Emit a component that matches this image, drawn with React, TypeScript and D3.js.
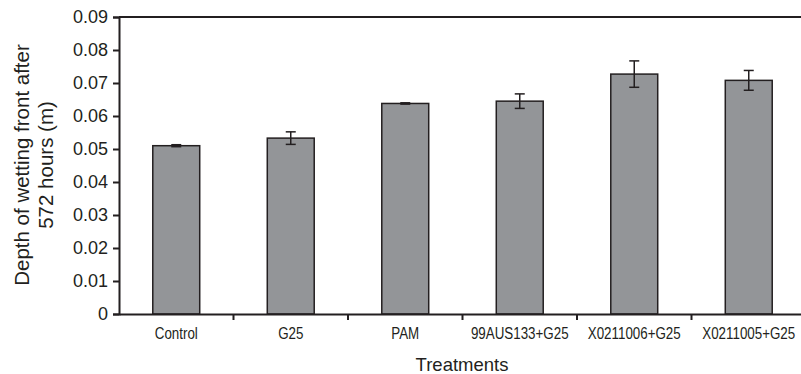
import React, { useEffect, useRef } from 'react';
import * as d3 from 'd3';

const treatments = ['Control', 'G25', 'PAM', '99AUS133+G25', 'X0211006+G25', 'X0211005+G25'];
const depths = [0.051, 0.0533, 0.0638, 0.0645, 0.0727, 0.0708];
const errors = [0.0003, 0.0019, 0.0002, 0.0022, 0.004, 0.003];
const yTicks = [0, 0.01, 0.02, 0.03, 0.04, 0.05, 0.06, 0.07, 0.08, 0.09];

export default function App() {
    const ref = useRef<SVGSVGElement | null>(null);

    useEffect(() => {
        const width = 801;
        const height = 374;
        const margin = { top: 17, right: -5, bottom: 60, left: 119 };
        const chartWidth = width - margin.left - margin.right;
        const chartHeight = height - margin.top - margin.bottom;
        const dark = '#231f20';
        const font = 'Liberation Sans, Arial, sans-serif';

        const svg = d3.select(ref.current).attr('width', width).attr('height', height);
        svg.selectAll('*').remove();

        const chart = svg.append('g').attr('transform', `translate(${margin.left}, ${margin.top})`);

        const x = d3.scaleBand().domain(treatments).range([0, chartWidth]).paddingInner(0).paddingOuter(0);
        const y = d3.scaleLinear().domain([0, 0.09]).range([chartHeight, 0]);
        const barW = x.bandwidth() * 0.41;

        // top frame line
        chart.append('line')
            .attr('x1', 0).attr('x2', chartWidth)
            .attr('y1', 0).attr('y2', 0)
            .attr('stroke', dark).attr('stroke-width', 2);

        // bars
        chart.selectAll('rect.bar')
            .data(depths)
            .join('rect')
            .attr('class', 'bar')
            .attr('x', (_, i) => x(treatments[i])! + x.bandwidth() / 2 - barW / 2)
            .attr('y', (d) => y(d))
            .attr('width', barW)
            .attr('height', (d) => chartHeight - y(d))
            .attr('fill', '#939598')
            .attr('stroke', dark)
            .attr('stroke-width', 1.5);

        // error bars
        const err = chart.selectAll('g.err')
            .data(depths)
            .join('g')
            .attr('class', 'err')
            .attr('transform', (_, i) => `translate(${x(treatments[i])! + x.bandwidth() / 2}, 0)`)
            .attr('stroke', dark)
            .attr('stroke-width', 1.5);
        err.append('line')
            .attr('y1', (d, i) => y(d + errors[i]))
            .attr('y2', (d, i) => y(d - errors[i]));
        err.append('line')
            .attr('x1', -5).attr('x2', 5)
            .attr('y1', (d, i) => y(d + errors[i]))
            .attr('y2', (d, i) => y(d + errors[i]));
        err.append('line')
            .attr('x1', -5).attr('x2', 5)
            .attr('y1', (d, i) => y(d - errors[i]))
            .attr('y2', (d, i) => y(d - errors[i]));

        // y axis
        const yAxis = chart.append('g')
            .call(d3.axisLeft(y).tickValues(yTicks).tickSize(6).tickPadding(5).tickFormat((d) => `${+d}`));
        yAxis.select('.domain').attr('stroke', dark).attr('stroke-width', 2);
        yAxis.selectAll('.tick line').attr('stroke', dark).attr('stroke-width', 2);
        yAxis.selectAll('.tick text')
            .attr('fill', dark)
            .style('font-family', font)
            .style('font-size', '18px');

        // x axis
        const xAxis = chart.append('g')
            .attr('transform', `translate(0, ${chartHeight})`)
            .call(d3.axisBottom(x).tickSize(0).tickPadding(0));
        xAxis.select('.domain').attr('stroke', dark).attr('stroke-width', 2);
        // narrow look for the category labels
        xAxis.selectAll('.tick text')
            .attr('fill', dark)
            .attr('dy', null)
            .attr('y', 25)
            .attr('transform', 'scale(0.81, 1)')
            .style('font-family', font)
            .style('font-size', '16.5px');
        xAxis.selectAll('line.sep')
            .data(treatments.slice(1))
            .join('line')
            .attr('class', 'sep')
            .attr('x1', (d) => x(d)!).attr('x2', (d) => x(d)!)
            .attr('y1', 0).attr('y2', 6)
            .attr('stroke', dark).attr('stroke-width', 2);

        // axis titles
        svg.append('text')
            .attr('x', 462)
            .attr('y', 371)
            .attr('text-anchor', 'middle')
            .attr('fill', dark)
            .style('font-family', font)
            .style('font-size', '18.5px')
            .text('Treatments');

        const yTitle = svg.append('text')
            .attr('transform', 'translate(0, 165) rotate(-90)')
            .attr('text-anchor', 'middle')
            .attr('fill', dark)
            .style('font-family', font)
            .style('font-size', '20.5px');
        yTitle.append('tspan').attr('x', 0).attr('y', 29).text('Depth of wetting front after');
        yTitle.append('tspan').attr('x', 0).attr('y', 53).text('572 hours (m)');
    }, []);

    return <svg ref={ref} style={{ position: 'absolute', left: 0, top: 0 }}></svg>;
}
